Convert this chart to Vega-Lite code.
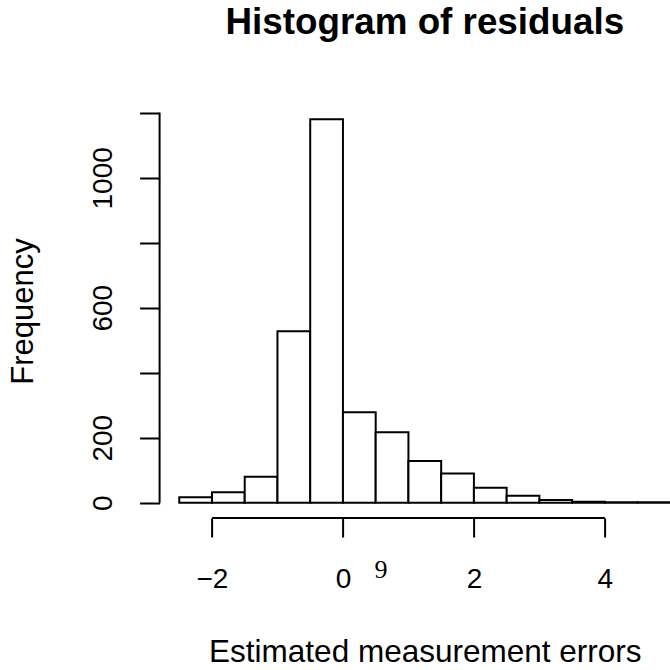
{
  "$schema": "https://vega.github.io/schema/vega-lite/v6.json",
  "width": 530.4,
  "height": 414,
  "autosize": {"type": "none"},
  "padding": {"left": 159.6, "top": 104, "right": -20, "bottom": 152},
  "background": "white",
  "title": {
    "text": "Histogram of residuals",
    "font": "Liberation Sans",
    "fontSize": 36.8,
    "fontWeight": "bold",
    "color": "black",
    "anchor": "middle",
    "baseline": "alphabetic",
    "offset": 33
  },
  "datasets": {
    "bins": [
      {"bin_start": -2.5, "bin_end": -2.0, "count": 17},
      {"bin_start": -2.0, "bin_end": -1.5, "count": 32},
      {"bin_start": -1.5, "bin_end": -1.0, "count": 80},
      {"bin_start": -1.0, "bin_end": -0.5, "count": 528},
      {"bin_start": -0.5, "bin_end": 0.0, "count": 1180},
      {"bin_start": 0.0, "bin_end": 0.5, "count": 278},
      {"bin_start": 0.5, "bin_end": 1.0, "count": 217},
      {"bin_start": 1.0, "bin_end": 1.5, "count": 128},
      {"bin_start": 1.5, "bin_end": 2.0, "count": 90},
      {"bin_start": 2.0, "bin_end": 2.5, "count": 46},
      {"bin_start": 2.5, "bin_end": 3.0, "count": 21},
      {"bin_start": 3.0, "bin_end": 3.5, "count": 8},
      {"bin_start": 3.5, "bin_end": 4.0, "count": 3},
      {"bin_start": 4.0, "bin_end": 4.5, "count": 1},
      {"bin_start": 4.5, "bin_end": 5.0, "count": 1}
    ],
    "notes": [
      {"x": 0.58, "y": -231, "label": "9"}
    ]
  },
  "layer": [
    {
      "data": {"name": "bins"},
      "mark": {"type": "rect", "fill": "white", "stroke": "black", "strokeWidth": 2},
      "encoding": {
        "x": {
          "field": "bin_start",
          "type": "quantitative",
          "scale": {"domain": [-2.8, 5.3], "nice": false, "zero": false},
          "axis": {
            "values": [-2, 0, 2, 4],
            "format": "d",
            "domain": false,
            "grid": false,
            "ticks": true,
            "tickSize": 19,
            "tickWidth": 2,
            "tickColor": "black",
            "labelFont": "Liberation Sans",
            "labelFontSize": 28,
            "labelColor": "black",
            "labelBaseline": "alphabetic",
            "labelPadding": 50,
            "labelFlush": false,
            "labelOverlap": false,
            "title": "Estimated measurement errors",
            "titleFont": "Liberation Sans",
            "titleFontSize": 31.5,
            "titleFontWeight": "normal",
            "titleColor": "black",
            "titleBaseline": "alphabetic",
            "titleY": 143
          }
        },
        "x2": {"field": "bin_end"},
        "y": {
          "field": "count",
          "type": "quantitative",
          "scale": {"domain": [-47.2, 1227.2], "nice": false, "zero": false},
          "axis": {
            "values": [0, 200, 400, 600, 800, 1000, 1200],
            "format": "d",
            "labelExpr": "datum.value == 400 || datum.value == 800 || datum.value == 1200 ? '' : datum.label",
            "domain": false,
            "grid": false,
            "ticks": true,
            "tickSize": 20,
            "tickWidth": 2,
            "tickColor": "black",
            "labelFont": "Liberation Sans",
            "labelFontSize": 28,
            "labelColor": "black",
            "labelAngle": 270,
            "labelAlign": "center",
            "labelBaseline": "alphabetic",
            "labelPadding": 28,
            "labelFlush": false,
            "labelOverlap": false,
            "title": "Frequency",
            "titleFont": "Liberation Sans",
            "titleFontSize": 31,
            "titleFontWeight": "normal",
            "titleColor": "black",
            "titleAngle": 270,
            "titleBaseline": "alphabetic",
            "titleAlign": "center",
            "titleX": -127,
            "titleY": 207
          }
        },
        "y2": {"datum": 0}
      }
    },
    {
      "data": {"values": [{}]},
      "mark": {"type": "rule", "color": "black", "strokeWidth": 2},
      "encoding": {
        "x": {"datum": -2},
        "x2": {"datum": 4},
        "y": {"datum": -47.2}
      }
    },
    {
      "data": {"values": [{}]},
      "mark": {"type": "rule", "color": "black", "strokeWidth": 2},
      "encoding": {
        "x": {"datum": -2.8},
        "y": {"datum": 0},
        "y2": {"datum": 1200}
      }
    },
    {
      "data": {"name": "notes"},
      "mark": {"type": "text", "font": "Liberation Serif", "fontSize": 26, "color": "black", "align": "center", "baseline": "alphabetic"},
      "encoding": {
        "x": {"field": "x", "type": "quantitative"},
        "y": {"field": "y", "type": "quantitative"},
        "text": {"field": "label"}
      }
    }
  ],
  "config": {"view": {"stroke": null}}
}
